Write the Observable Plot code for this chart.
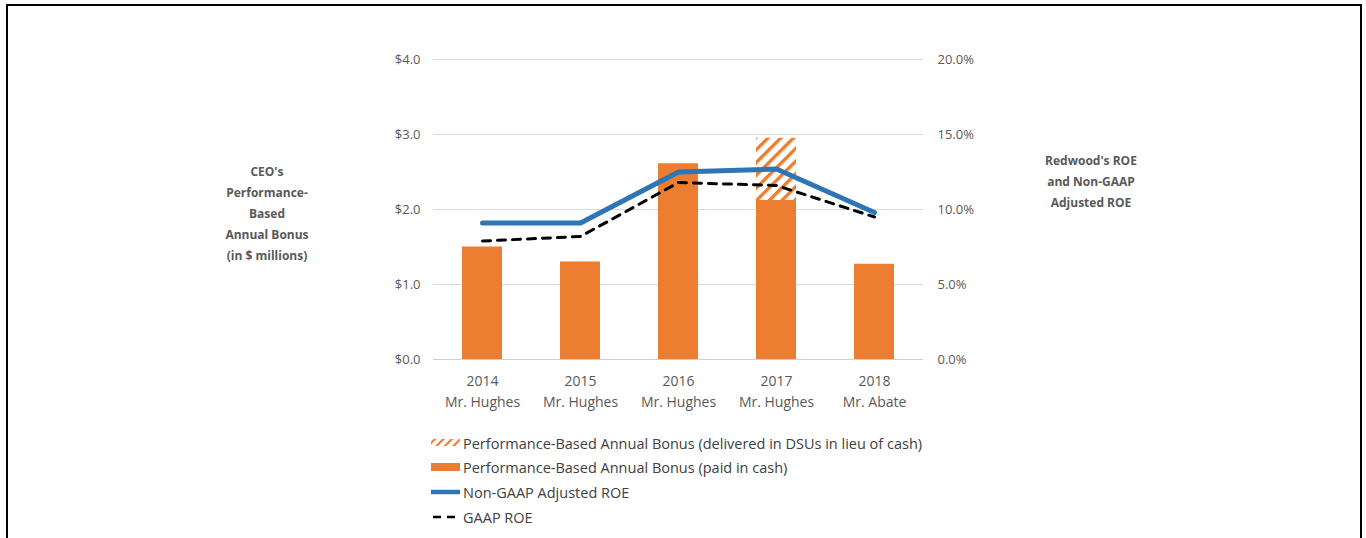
<!DOCTYPE html>
<html>
<head>
<meta charset="utf-8">
<script src="https://cdn.jsdelivr.net/npm/d3@7"></script>
<script src="https://cdn.jsdelivr.net/npm/@observablehq/plot@0.6"></script>
<style>
  html, body { margin: 0; padding: 0; background: #fff; }
  #wrap { position: relative; width: 1366px; height: 538px; overflow: hidden; font-family: "Open Sans", "Noto Sans", sans-serif; }
  #frame { position: absolute; left: 6px; top: 4px; width: 1356px; height: 600px; border: 2px solid #000; border-bottom: none; box-sizing: border-box; }
  #chart { position: absolute; left: 0; top: 0; }
  .atitle { position: absolute; text-align: center; font-weight: bold; font-size: 12px; line-height: 21px; color: #595959; }
  .leg { position: absolute; left: 431px; font-size: 14.5px; color: #404040; display: flex; align-items: center; height: 20px; }
  .leg svg { margin-right: 3px; }
</style>
</head>
<body>
<div id="wrap">
  <div id="frame"></div>
  <div id="chart"></div>
  <div class="atitle" style="left:207px; top:161px; width:120px;">CEO's<br>Performance-<br>Based<br>Annual Bonus<br>(in $ millions)</div>
  <div class="atitle" style="left:1021px; top:150px; width:140px;">Redwood's ROE<br>and Non-GAAP<br>Adjusted ROE</div>
  <div id="legend"></div>
</div>
<script>
const years = ["2014", "2015", "2016", "2017", "2018"];
const ceos = ["Mr. Hughes", "Mr. Hughes", "Mr. Hughes", "Mr. Hughes", "Mr. Abate"];
const bonusCash = [1.50, 1.30, 2.61, 2.12, 1.27];
const bonusDSU = [0, 0, 0, 0.83, 0];
const nonGaapROE = [9.1, 9.1, 12.5, 12.7, 9.8];
const gaapROE = [7.9, 8.2, 11.8, 11.6, 9.5];
const leftTicks = [0, 1, 2, 3, 4];
const rightTicks = [0, 5, 10, 15, 20];

const orange = "#ED7D31";
const blue = "#2E75B6";

const bars = [];
years.forEach((y, i) => {
  bars.push({year: y, part: "cash", value: bonusCash[i]});
  bars.push({year: y, part: "dsu", value: bonusDSU[i]});
});
const roe = years.map((y, i) => ({year: y, nongaap: nonGaapROE[i], gaap: gaapROE[i]}));
const labelOf = Object.fromEntries(years.map((y, i) => [y, y + "\n" + ceos[i]]));
// right axis (percent) mapped onto left scale: 20% <-> $4.0
const k = 5;

const plot = Plot.plot({
  width: 1366,
  height: 420,
  marginLeft: 433,
  marginRight: 443,
  marginTop: 59,
  marginBottom: 61,
  style: {fontFamily: "'Open Sans', 'Noto Sans', sans-serif", fontSize: "13px", color: "#595959"},
  x: {domain: years, paddingInner: 0.59, paddingOuter: 0.295, label: null},
  y: {domain: [0, 4], label: null},
  marks: [
    Plot.gridY(leftTicks, {stroke: "#d9d9d9", strokeOpacity: 1}),
    Plot.axisY(leftTicks, {anchor: "left", tickSize: 0, tickPadding: 13, label: null,
      tickFormat: d => "$" + d.toFixed(1), fill: "#595959", fontSize: 13}),
    Plot.axisY(rightTicks.map(d => d / k), {anchor: "right", tickSize: 0, tickPadding: 14, label: null,
      tickFormat: d => (d * k).toFixed(1) + "%", fill: "#595959", fontSize: 13}),
    Plot.axisX({tickSize: 0, tickPadding: 12, label: null, tickFormat: d => labelOf[d],
      fill: "#595959", fontSize: 14, lineHeight: 1.5}),
    Plot.barY(bars, {x: "year", y: "value", fill: d => d.part === "cash" ? orange : "url(#hatch)",
      order: ["cash", "dsu"], z: "part"}),
    Plot.ruleY([0], {stroke: "#d0d0d0"}),
    Plot.line(roe, {x: "year", y: d => d.gaap / k, stroke: "#000", strokeWidth: 3, strokeDasharray: "8,7", curve: "linear"}),
    Plot.line(roe, {x: "year", y: d => d.nongaap / k, stroke: blue, strokeWidth: 5, strokeLinecap: "round", curve: "linear"})
  ]
});

// hatch pattern definition
const svg = d3.select(plot);
const defs = svg.insert("defs", ":first-child");
const pat = defs.append("pattern").attr("id", "hatch").attr("patternUnits", "userSpaceOnUse")
  .attr("width", 9).attr("height", 9).attr("patternTransform", "rotate(45)");
pat.append("rect").attr("width", 9).attr("height", 9).attr("fill", "#fff");
pat.append("rect").attr("x", 0).attr("width", 3.4).attr("height", 9).attr("fill", orange);
document.getElementById("chart").appendChild(plot);

// legend
const legendItems = [
  {label: "Performance-Based Annual Bonus (delivered in DSUs in lieu of cash)", type: "hatch"},
  {label: "Performance-Based Annual Bonus (paid in cash)", type: "bar"},
  {label: "Non-GAAP Adjusted ROE", type: "blue"},
  {label: "GAAP ROE", type: "dash"}
];
const legendTops = [433, 457, 482, 507];
const leg = d3.select("#legend");
legendItems.forEach((it, i) => {
  const row = leg.append("div").attr("class", "leg").style("top", legendTops[i] + "px");
  const s = row.append("svg").attr("width", 29).attr("height", 20);
  if (it.type === "hatch") {
    const d = s.append("defs").append("pattern").attr("id", "hatchLeg").attr("patternUnits", "userSpaceOnUse")
      .attr("width", 6).attr("height", 6).attr("patternTransform", "rotate(45)");
    d.append("rect").attr("width", 2.2).attr("height", 6).attr("fill", orange);
    s.append("rect").attr("x", 0).attr("y", 6).attr("width", 29).attr("height", 7).attr("fill", "url(#hatchLeg)");
  } else if (it.type === "bar") {
    s.append("rect").attr("x", 0).attr("y", 6).attr("width", 29).attr("height", 8).attr("fill", orange);
  } else if (it.type === "blue") {
    s.append("line").attr("x1", 0).attr("x2", 29).attr("y1", 10).attr("y2", 10).attr("stroke", blue).attr("stroke-width", 4.5);
  } else {
    s.append("line").attr("x1", 2).attr("x2", 29).attr("y1", 10).attr("y2", 10).attr("stroke", "#000").attr("stroke-width", 2.5).attr("stroke-dasharray", "8,6");
  }
  row.append("span").text(it.label);
});
</script>
</body>
</html>
